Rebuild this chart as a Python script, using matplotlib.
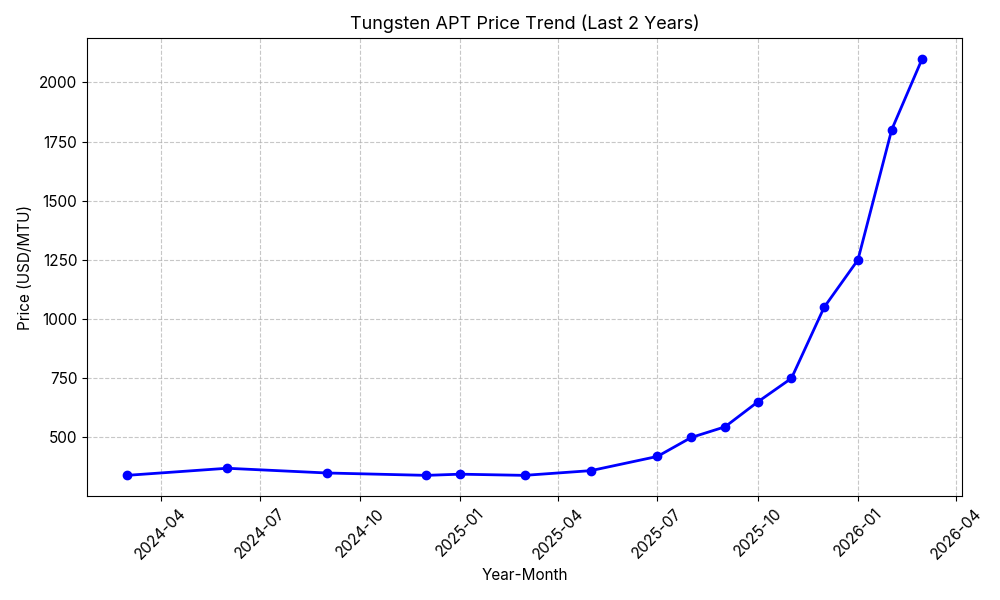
import pandas as pd
import matplotlib.pyplot as plt
import matplotlib.dates as mdates

plt.rcParams['font.family'] = ['Inter', 'DejaVu Sans']

dates = ['2024-03-01', '2024-06-01', '2024-09-01', '2024-12-01', '2025-01-01',
         '2025-03-01', '2025-05-01', '2025-07-01', '2025-08-01', '2025-09-01',
         '2025-10-01', '2025-11-01', '2025-12-01', '2026-01-01', '2026-02-01',
         '2026-03-01']
prices = [340, 370, 350, 340, 345, 340, 360, 420, 500, 545, 650, 750, 1050,
          1250, 1800, 2100]

df = pd.DataFrame({'Date': pd.to_datetime(dates), 'Price': prices})

fig, ax = plt.subplots(figsize=(10, 6), dpi=100)
ax.plot(df['Date'], df['Price'], marker='o', color='blue', linewidth=2, markersize=6)
ax.set_title('Tungsten APT Price Trend (Last 2 Years)', fontsize=13)
ax.set_xlabel('Year-Month', fontsize=11)
ax.set_ylabel('Price (USD/MTU)', fontsize=11)
ax.xaxis.set_major_locator(mdates.MonthLocator(bymonth=[1, 4, 7, 10]))
ax.xaxis.set_major_formatter(mdates.DateFormatter('%Y-%m'))
ax.grid(True, linestyle='--', alpha=0.7)
plt.xticks(rotation=45, fontsize=11)
plt.yticks(fontsize=11)
plt.subplots_adjust(left=0.087, right=0.962, top=0.937, bottom=0.173)
plt.savefig('out.png')
